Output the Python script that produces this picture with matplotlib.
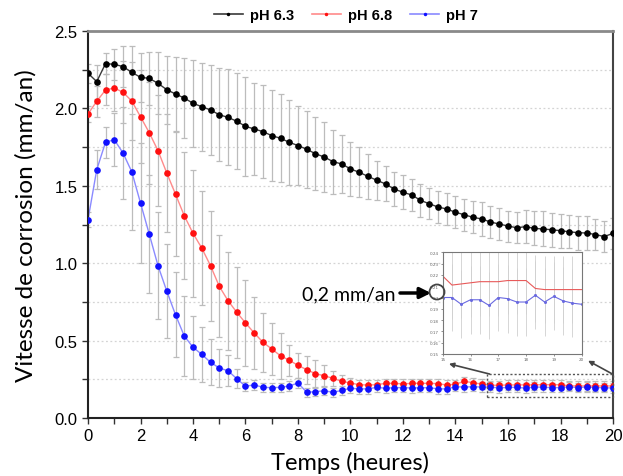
import numpy as np
import matplotlib
matplotlib.use("Agg")
import matplotlib.pyplot as plt
from matplotlib.patches import Rectangle, Ellipse, FancyArrowPatch

# ---------------- data ----------------
time_h = [i / 3 for i in range(61)]

ph63 = [2.227, 2.173, 2.289, 2.285, 2.270, 2.233, 2.201, 2.194, 2.162, 2.121,
        2.093, 2.067, 2.033, 2.011, 1.990, 1.959, 1.942, 1.917, 1.884, 1.867,
        1.850, 1.824, 1.807, 1.781, 1.760, 1.736, 1.707, 1.686, 1.656, 1.641,
        1.609, 1.587, 1.561, 1.536, 1.512, 1.479, 1.458, 1.441, 1.406, 1.384,
        1.363, 1.350, 1.329, 1.313, 1.296, 1.286, 1.266, 1.253, 1.240, 1.229,
        1.236, 1.225, 1.221, 1.216, 1.210, 1.203, 1.197, 1.195, 1.185, 1.172,
        1.193]
ph63_err = [0.06, 0.11, 0.07, 0.10, 0.13, 0.17, 0.16, 0.17, 0.20, 0.22,
            0.24, 0.26, 0.28, 0.285, 0.29, 0.30, 0.31, 0.31, 0.32, 0.30,
            0.30, 0.296, 0.285, 0.273, 0.256, 0.249, 0.237, 0.224, 0.207, 0.185,
            0.172, 0.161, 0.145, 0.127, 0.113, 0.112, 0.110, 0.103, 0.105, 0.099,
            0.101, 0.105, 0.103, 0.102, 0.104, 0.111, 0.105, 0.102, 0.100, 0.100,
            0.108, 0.110, 0.113, 0.111, 0.110, 0.108, 0.110, 0.110, 0.100, 0.100,
            0.100]

ph68 = [1.964, 2.046, 2.119, 2.132, 2.104, 2.048, 1.946, 1.843, 1.727, 1.583,
        1.446, 1.307, 1.193, 1.098, 0.984, 0.851, 0.758, 0.683, 0.614, 0.549,
        0.489, 0.446, 0.402, 0.373, 0.340, 0.312, 0.286, 0.273, 0.256, 0.237,
        0.226, 0.215, 0.213, 0.215, 0.224, 0.224, 0.220, 0.224, 0.224, 0.224,
        0.222, 0.213, 0.218, 0.237, 0.228, 0.219, 0.211, 0.212, 0.213, 0.214,
        0.214, 0.214, 0.215, 0.215, 0.215, 0.208, 0.207, 0.207, 0.207, 0.207,
        0.207]
ph68_err = [0.05, 0.10, 0.10, 0.15, 0.20, 0.25, 0.30, 0.33, 0.36, 0.38,
            0.40, 0.41, 0.41, 0.37, 0.355, 0.33, 0.317, 0.295, 0.28, 0.235,
            0.19, 0.17, 0.15, 0.10, 0.08, 0.09, 0.09, 0.07, 0.05, 0.04,
            0.03, 0.03, 0.03, 0.03, 0.03, 0.03, 0.03, 0.03, 0.03, 0.03,
            0.03, 0.03, 0.03, 0.03, 0.03, 0.03, 0.03, 0.03, 0.03, 0.03,
            0.03, 0.03, 0.03, 0.03, 0.03, 0.03, 0.03, 0.03, 0.03, 0.03,
            0.03]

ph7 = [1.281, 1.604, 1.781, 1.798, 1.712, 1.591, 1.389, 1.188, 0.984, 0.820,
       0.667, 0.530, 0.457, 0.411, 0.360, 0.323, 0.305, 0.254, 0.205, 0.214,
       0.198, 0.196, 0.198, 0.207, 0.226, 0.166, 0.170, 0.176, 0.166, 0.178,
       0.192, 0.188, 0.188, 0.198, 0.192, 0.196, 0.196, 0.194, 0.195, 0.196,
       0.188, 0.188, 0.202, 0.200, 0.202, 0.200, 0.200, 0.194, 0.198, 0.198,
       0.193, 0.200, 0.199, 0.196, 0.196, 0.202, 0.196, 0.201, 0.197, 0.195,
       0.194]
ph7_err = [0.05, 0.125, 0.10, 0.17, 0.30, 0.375, 0.39, 0.38, 0.345, 0.305,
           0.275, 0.257, 0.205, 0.18, 0.15, 0.125, 0.10, 0.06, 0.03, 0.03,
           0.03, 0.03, 0.03, 0.03, 0.03, 0.03, 0.03, 0.03, 0.03, 0.03,
           0.03, 0.03, 0.03, 0.03, 0.03, 0.03, 0.03, 0.03, 0.03, 0.03,
           0.03, 0.03, 0.03, 0.03, 0.03, 0.03, 0.03, 0.03, 0.03, 0.03,
           0.03, 0.03, 0.03, 0.03, 0.03, 0.03, 0.03, 0.03, 0.03, 0.03,
           0.03]

labels = ["pH 6.3", "pH 6.8", "pH 7"]
x_ticks = [0, 2, 4, 6, 8, 10, 12, 14, 16, 18, 20]
y_ticks = [0.0, 0.5, 1.0, 1.5, 2.0, 2.5]
inset_start = 45  # index of 15 h

# ---------------- figure ----------------
W, H = 623, 477
fig = plt.figure(figsize=(W / 100, H / 100), dpi=100)
ax = fig.add_axes([88 / W, 1 - 419 / H, (613 - 88) / W, (419 - 32) / H])

tick_font = "Liberation Sans"
label_font = "Lato"

series = [
    (ph63, ph63_err, "#000000", "#3a3a3a"),
    (ph68, ph68_err, "#ff1010", "#ff8a8a"),
    (ph7, ph7_err, "#1010ff", "#8a8aff"),
]
handles = []
for (vals, errs, mcol, lcol), lab in zip(series, labels):
    ax.errorbar(time_h, vals, yerr=errs, fmt="none", ecolor="#bcbcbc",
                elinewidth=0.9, capsize=2.5, capthick=0.9, zorder=1)
    ax.plot(time_h, vals, color=lcol, lw=1.0, zorder=2)
    ax.plot(time_h, vals, ls="none", marker="o", ms=4.8, color=mcol,
            markeredgewidth=0, zorder=3)
    h, = ax.plot([], [], color=lcol, lw=1.2, marker="o", ms=2.5,
                 markerfacecolor=mcol, markeredgewidth=0, label=lab)
    handles.append(h)

ax.set_xlim(0, 20)
ax.set_ylim(0, 2.5)
ax.set_xticks(x_ticks)
ax.set_xticks(range(0, 21), minor=True)
ax.set_yticks(y_ticks)
ax.set_yticks(np.arange(0, 2.51, 0.25), minor=True)
ax.set_xticklabels([str(v) for v in x_ticks], fontfamily=tick_font, fontsize=12)
ax.set_yticklabels([f"{v:.1f}" for v in y_ticks], fontfamily=tick_font, fontsize=12)
ax.tick_params(axis="both", which="both", direction="out", length=4,
               width=1, color="#333333")
ax.tick_params(axis="x", pad=3)
ax.yaxis.grid(True, which="both", color="#d4d4d4", linestyle=(0, (1.5, 2)), lw=0.9)
ax.set_axisbelow(True)

for s in ["left", "bottom"]:
    ax.spines[s].set_color("#222222")
    ax.spines[s].set_linewidth(1.5)
ax.spines["top"].set_color("#8a8a8a")
ax.spines["top"].set_linewidth(2.0)
ax.spines["right"].set_color("#444444")
ax.spines["right"].set_linewidth(1.5)

ax.set_xlabel("Temps (heures)", fontfamily=label_font, fontsize=17, labelpad=6)
ax.set_ylabel("Vitesse de corrosion (mm/an)", fontfamily=label_font,
              fontsize=17.5, labelpad=13)

leg = fig.legend(handles=handles, loc="center", bbox_to_anchor=(346 / W, 1 - 16 / H),
                 ncol=3, frameon=False, handlelength=2.0, columnspacing=1.2,
                 handletextpad=0.5,
                 prop={"family": tick_font, "weight": "bold", "size": 10.5})

# dotted zoom box
ax.add_patch(Rectangle((15.2, 0.134), 4.8, 0.15, fill=False, ec="#555555",
                       lw=1.0, ls=(0, (1.5, 1.5)), zorder=4, clip_on=False))

# inset
axin = fig.add_axes([442.7 / W, 1 - 355 / H, (581.7 - 442.7) / W, (355 - 253.3) / H])
tin = time_h[inset_start:]
axin.errorbar(tin, ph68[inset_start:], yerr=ph68_err[inset_start:], fmt="none",
              ecolor="#d0d0d0", elinewidth=0.6, capsize=0, zorder=1)
axin.errorbar(tin, ph7[inset_start:], yerr=ph7_err[inset_start:], fmt="none",
              ecolor="#d0d0d0", elinewidth=0.6, capsize=0, zorder=1)
axin.plot(tin, ph68[inset_start:], color="#e85a5a", lw=0.8, zorder=2)
axin.plot(tin, ph7[inset_start:], color="#6a6ae0", lw=0.8, marker="o", ms=1.2,
          zorder=2)
axin.set_xlim(15, 20)
axin.set_ylim(0.15, 0.24)
axin.set_xticks([15, 16, 17, 18, 19, 20])
axin.set_yticks(np.arange(0.15, 0.2401, 0.01))
axin.set_xticklabels(["15", "16", "17", "18", "19", "20"])
axin.set_yticklabels(["0.15", "0.16", "0.17", "0.18", "0.19", "0.2",
                      "0.21", "0.22", "0.23", "0.24"])
axin.tick_params(labelsize=3, length=1.5, width=0.5, pad=1, colors="#666666")
for s in axin.spines.values():
    s.set_color("#777777")
    s.set_linewidth(0.8)

# connector arrows from zoom box to inset
arrow_kw = dict(arrowstyle="-|>", color="#444444", lw=1.2, mutation_scale=7,
                shrinkA=0, shrinkB=0)
ax.annotate("", xy=(13.75, 0.35), xytext=(15.3, 0.284), arrowprops=arrow_kw,
            annotation_clip=False)
ax.annotate("", xy=(19.05, 0.37), xytext=(19.98, 0.284), arrowprops=arrow_kw,
            annotation_clip=False)

# 0,2 mm/an annotation
fig.text(302 / W, 1 - 295 / H, "0,2 mm/an", fontfamily=label_font, fontsize=14,
         va="center", ha="left", color="black")
fig.add_artist(FancyArrowPatch(
    (400 / W, 1 - 294 / H), (431 / W, 1 - 294 / H), transform=fig.transFigure,
    arrowstyle="-|>", mutation_scale=16, lw=2.5, color="black",
    shrinkA=0, shrinkB=0))
fig.add_artist(Ellipse((437 / W, 1 - 293 / H), 15 / W, 15 / H,
                       transform=fig.transFigure, fill=False, ec="#444444", lw=1.3))

fig.savefig("out.png", dpi=100)
